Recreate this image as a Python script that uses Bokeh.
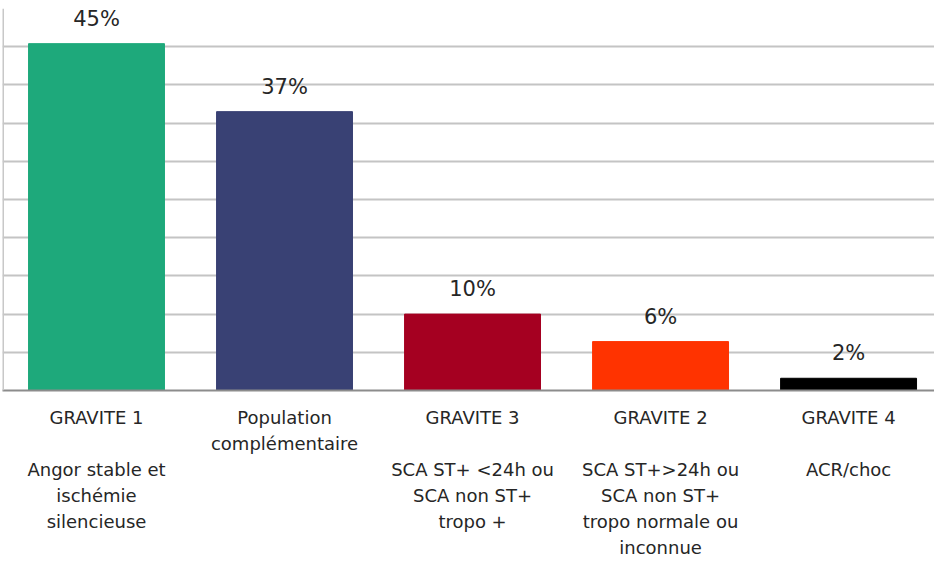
from bokeh.plotting import figure
from bokeh.models import ColumnDataSource, FixedTicker, Range1d, Span
from bokeh.core.properties import value
from bokeh.embed import file_html
from bokeh.resources import INLINE

# ---- data ----
categories = ["GRAVITE 1", "Population\ncomplémentaire", "GRAVITE 3", "GRAVITE 2", "GRAVITE 4"]
descriptions = [
    "Angor stable et\nischémie\nsilencieuse",
    "",
    "SCA ST+ <24h ou\nSCA non ST+\ntropo +",
    "SCA ST+>24h ou\nSCA non ST+\ntropo normale ou\ninconnue",
    "ACR/choc",
]
values = [45.4, 36.5, 10.0, 6.4, 1.6]
value_labels = ["45%", "37%", "10%", "6%", "2%"]
colors = ["#1EA97B", "#394174", "#A50021", "#FF3300", "#000000"]
grid_ticks = [0, 5, 10, 15, 20, 25, 30, 35, 40, 45, 50]

FONT = "DejaVu Sans"
idx = list(range(len(categories)))

src = ColumnDataSource(dict(x=idx, top=values, color=colors, lab=value_labels))

x_start = -0.5
p = figure(frame_width=932, frame_height=382, output_backend="svg", toolbar_location=None,
           x_range=Range1d(x_start, 4.457), y_range=Range1d(0, 50),
           min_border_left=2, min_border_right=0, min_border_top=8, min_border_bottom=0)
p.outline_line_color = None
p.background_fill_color = "white"
p.border_fill_color = "white"

p.vbar(x="x", top="top", width=0.723, bottom=0, color="color", source=src)
p.text(x="x", y="top", text="lab", source=src, text_align="center", text_baseline="alphabetic",
       y_offset=-25, text_font=value(FONT), text_font_size="21px", text_color="#262626")

# y axis hidden, gridlines only
p.yaxis.visible = False
p.ygrid.ticker = FixedTicker(ticks=grid_ticks)
p.ygrid.grid_line_color = "#C4C4C4"
p.ygrid.grid_line_width = 2
p.xgrid.visible = False

p.add_layout(Span(location=x_start, dimension="height", line_color="#C8C8C8", line_width=3))

# x axis with multi-line labels
p.xaxis.ticker = FixedTicker(ticks=idx)
overrides = {}
for i, (c, d) in enumerate(zip(categories, descriptions)):
    overrides[i] = c + ("\n\n" + d if d else "")
p.xaxis.major_label_overrides = overrides
p.xaxis.major_tick_line_color = None
p.xaxis.minor_tick_line_color = None
p.xaxis.axis_line_color = "#8C8C8C"
p.xaxis.axis_line_width = 2
p.xaxis.major_label_standoff = 10
p.xaxis.major_label_text_font = FONT
p.xaxis.major_label_text_font_size = "18px"
p.xaxis.major_label_text_color = "#262626"
p.xaxis.major_label_text_line_height = 1.24

open("out.html", "w").write(file_html(p, INLINE))
